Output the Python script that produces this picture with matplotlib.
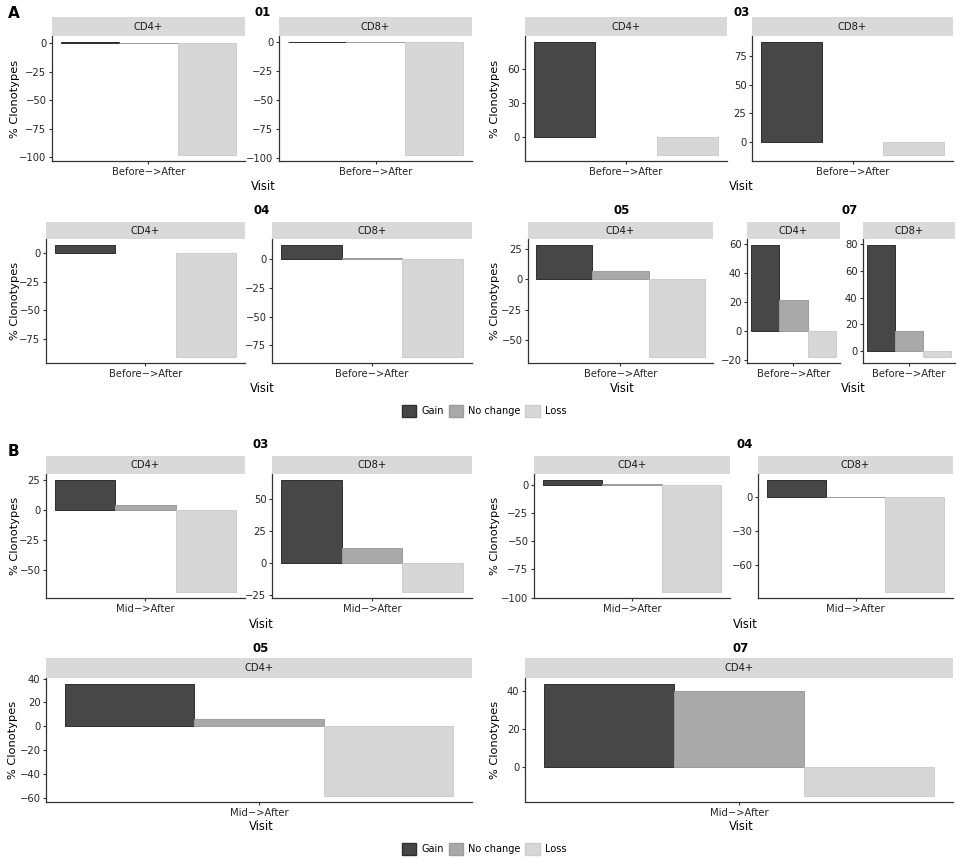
import matplotlib
matplotlib.use("Agg")
import matplotlib.pyplot as plt
from matplotlib.patches import Patch

# values (% clonotypes)
panel_ids = ["A01_CD4", "A01_CD8", "A03_CD4", "A03_CD8",
             "A04_CD4", "A04_CD8", "A05_CD4", "A07_CD4", "A07_CD8",
             "B03_CD4", "B03_CD8", "B04_CD4", "B04_CD8",
             "B05_CD4", "B07_CD4"]
strip_labels = ["CD4+", "CD8+", "CD4+", "CD8+",
                "CD4+", "CD8+", "CD4+", "CD4+", "CD8+",
                "CD4+", "CD8+", "CD4+", "CD8+",
                "CD4+", "CD4+"]
visit_labels = ["Before−>After"] * 9 + ["Mid−>After"] * 6
gain = [1.2, 0.3, 84.0, 87.5, 7.6, 12.5, 28.3, 59.5, 79.5,
        25.4, 65.6, 4.5, 15.3, 35.7, 44.1]
no_change = [0.3, 0.6, 0.0, 0.0, 0.0, 1.0, 6.9, 21.6, 15.5,
             4.5, 11.9, 0.5, 0.3, 5.6, 40.4]
loss = [-98.5, -98.0, -16.5, -12.0, -91.5, -85.5, -64.0, -18.0, -4.5,
        -68.5, -23.3, -95.3, -83.6, -59.0, -15.5]
yticks = [[-100, -75, -50, -25, 0], [-100, -75, -50, -25, 0],
          [0, 30, 60], [0, 25, 50, 75],
          [-75, -50, -25, 0], [-75, -50, -25, 0], [-50, -25, 0, 25],
          [-20, 0, 20, 40, 60], [0, 20, 40, 60, 80],
          [-50, -25, 0, 25], [-25, 0, 25, 50],
          [-100, -75, -50, -25, 0], [-60, -30, 0],
          [-60, -40, -20, 0, 20, 40], [0, 20, 40]]
categories = ["Gain", "No change", "Loss"]
patient_titles = ["01", "03", "04", "05", "07", "03", "04", "05", "07"]

# layout in pixels: left, right, strip top, strip bottom, axis bottom
W, H = 957, 859
rows = {1: (17, 36, 161), 2: (222, 239, 363), 3: (456, 474, 598), 4: (658, 678, 802)}
layout = {
    "A01_CD4": (52, 245, 1), "A01_CD8": (279, 472, 1),
    "A03_CD4": (525, 727, 1), "A03_CD8": (752, 953, 1),
    "A04_CD4": (46, 245, 2), "A04_CD8": (272, 472, 2),
    "A05_CD4": (528, 713, 2), "A07_CD4": (747, 840, 2), "A07_CD8": (863, 955, 2),
    "B03_CD4": (46, 245, 3), "B03_CD8": (272, 472, 3),
    "B04_CD4": (534, 730, 3), "B04_CD8": (758, 953, 3),
    "B05_CD4": (46, 472, 4), "B07_CD4": (525, 953, 4),
}
title_pos = [(263, 13), (742, 13), (262, 210), (622, 210), (850, 210),
             (261, 445), (745, 445), (261, 648), (741, 648)]
visit_pos = [(263, 187), (741, 187), (262, 389), (622, 389), (853, 389),
             (261, 625), (745, 625), (261, 827), (741, 827)]
ylab_pos = [(15, 1), (495, 1), (15, 2), (495, 2), (15, 3), (495, 3), (13, 4), (495, 4)]

fills = {"Gain": "#474747", "No change": "#a9a9a9", "Loss": "#d7d7d7"}
edges = {"Gain": "#2e2e2e", "No change": "#9c9c9c", "Loss": "#cdcdcd"}
dark = "#333333"


def px_rect(left, right, top, bottom):
    return [left / W, 1 - bottom / H, (right - left) / W, (bottom - top) / H]


fig = plt.figure(figsize=(W / 100, H / 100), dpi=100)

for i, pid in enumerate(panel_ids):
    left, right, row = layout[pid]
    s_top, s_bot, a_bot = rows[row]
    ax = fig.add_axes(px_rect(left, right, s_bot, a_bot))
    vals = [gain[i], no_change[i], loss[i]]
    for j, cat in enumerate(categories):
        v = vals[j]
        ax.bar(1 + (j - 1) * 0.3, v, width=0.3, color=fills[cat],
               edgecolor=edges[cat], linewidth=0.7 if v != 0 else 0)
    lo, hi = min(vals + [0]), max(vals + [0])
    pad = (hi - lo) * 0.05
    ax.set_ylim(lo - pad, hi + pad)
    ax.set_xlim(0.505, 1.495)
    ax.set_yticks(yticks[i])
    ax.set_xticks([1])
    ax.set_xticklabels([visit_labels[i]])
    for side in ["top", "right"]:
        ax.spines[side].set_visible(False)
    for side in ["left", "bottom"]:
        ax.spines[side].set_color(dark)
        ax.spines[side].set_linewidth(0.9)
    ax.tick_params(length=2.5, width=0.8, color=dark, labelsize=7.2,
                   labelcolor="#262626", pad=1.5)

    sax = fig.add_axes(px_rect(left, right, s_top, s_bot))
    sax.set_facecolor("#d9d9d9")
    sax.set_xticks([])
    sax.set_yticks([])
    for sp in sax.spines.values():
        sp.set_visible(False)
    sax.text(0.5, 0.5, strip_labels[i], ha="center", va="center",
             fontsize=7.2, color="#1a1a1a", transform=sax.transAxes)

for t, (x, y) in zip(patient_titles, title_pos):
    fig.text(x / W, 1 - y / H, t, ha="center", va="center",
             fontsize=8.5, fontweight="bold")

for x, y in visit_pos:
    fig.text(x / W, 1 - y / H, "Visit", ha="center", va="center", fontsize=8.3)

for x, row in ylab_pos:
    s_top, s_bot, a_bot = rows[row]
    fig.text(x / W, 1 - (s_bot + a_bot) / 2 / H, "% Clonotypes", rotation=90,
             ha="center", va="center", fontsize=8.2)

fig.text(8 / W, 1 - 13 / H, "A", ha="left", va="center", fontsize=11, fontweight="bold")
fig.text(8 / W, 1 - 451 / H, "B", ha="left", va="center", fontsize=11, fontweight="bold")

handles = [Patch(facecolor=fills[c], edgecolor=edges[c], label=c) for c in categories]
for ly in [411, 849]:
    fig.legend(handles=handles, loc="center", bbox_to_anchor=(484 / W, 1 - ly / H),
               ncol=3, frameon=False, fontsize=7, handlelength=1.5, handleheight=1.5,
               handletextpad=0.5, columnspacing=0.5)

fig.savefig("out.png", dpi=100, facecolor="white")
